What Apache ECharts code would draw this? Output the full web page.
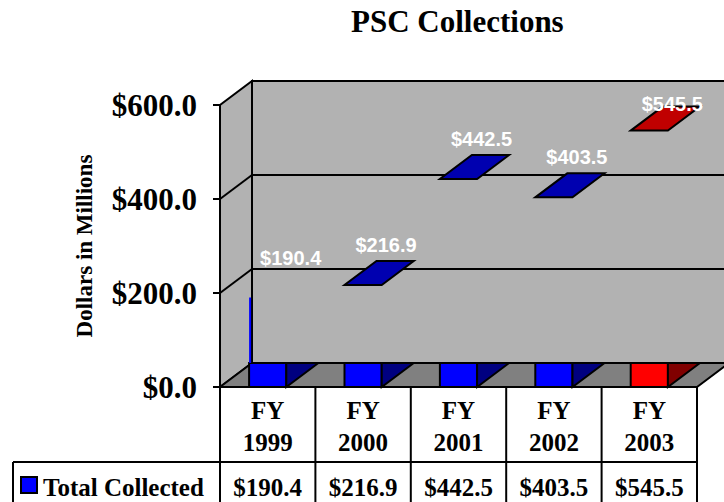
<!DOCTYPE html>
<html>
<head>
<meta charset="utf-8">
<script src="https://cdn.jsdelivr.net/npm/echarts@6/dist/echarts.min.js"></script>
<style>
  html, body { margin: 0; padding: 0; background: #fff; }
  #chart { width: 724px; height: 502px; }
</style>
</head>
<body>
<div id="chart"></div>
<script>
var categories = ['FY 1999', 'FY 2000', 'FY 2001', 'FY 2002', 'FY 2003'];
var collected = [190.4, 216.9, 442.5, 403.5, 545.5];
var yTicks = [0, 200, 400, 600];
var seriesName = 'Total Collected';

// depth of the fake 3d box, in pixels
var DX = 32, DY = -24;
var SERIF = "'Liberation Serif', 'Times New Roman', serif";
var SANS = "'Liberation Sans', Arial, sans-serif";
var BLUE = { front: '#0000FF', side: '#000080', top: '#0000B0' };
var RED = { front: '#FF0000', side: '#800000', top: '#C00000' };

function money(v) { return '$' + v.toFixed(1); }

function poly(points, fill, lw) {
  return { type: 'polygon', shape: { points: points }, style: { fill: fill, stroke: '#000', lineWidth: lw || 2, lineJoin: 'miter' } };
}
function seg(x1, y1, x2, y2, color, lw) {
  return { type: 'line', shape: { x1: x1, y1: y1, x2: x2, y2: y2 }, style: { stroke: color || '#000', lineWidth: lw || 2 } };
}
function txt(s, x, y, size, opts) {
  opts = opts || {};
  return {
    type: 'text',
    style: {
      text: s, x: x, y: y,
      fill: opts.fill || '#000',
      fontFamily: opts.family || SERIF,
      fontWeight: 'bold',
      fontSize: size,
      align: opts.align || 'center',
      verticalAlign: 'middle'
    }
  };
}

// walls, floor, gridlines and the row header of the data table
function renderFrame(params, api) {
  var bw = api.size([1, 0])[0];
  var xl = api.coord([0, 0])[0] - bw / 2;
  var xr = api.coord([categories.length - 1, 0])[0] + bw / 2;
  var y0 = api.coord([0, yTicks[0]])[1];
  var yt = api.coord([0, yTicks[yTicks.length - 1]])[1];
  var far = xr + DX + 40;
  var kids = [];
  kids.push(poly([[xl + DX, yt + DY], [far, yt + DY], [far, y0 + DY], [xl + DX, y0 + DY]], '#B2B2B2'));
  kids.push(poly([[xl, y0], [xl, yt], [xl + DX, yt + DY], [xl + DX, y0 + DY]], '#B2B2B2'));
  yTicks.slice(1, -1).forEach(function (t) {
    var y = api.coord([0, t])[1];
    kids.push(seg(xl, y, xl + DX, y + DY));
    kids.push(seg(xl + DX, y + DY, far, y + DY));
  });
  kids.push(poly([[xl, y0], [xl + DX, y0 + DY], [xr + DX, y0 + DY], [xr, y0]], '#808080'));

  // data table: row header
  var rowTop = y0 + 75;
  var tableLeft = 13;
  kids.push(seg(tableLeft, rowTop, xr, rowTop));
  kids.push(seg(tableLeft, rowTop, tableLeft, rowTop + 60));
  kids.push({ type: 'rect', shape: { x: tableLeft + 8, y: rowTop + 15, width: 16, height: 16 }, style: { fill: BLUE.front, stroke: '#000', lineWidth: 2 } });
  kids.push(txt(seriesName, tableLeft + 30, rowTop + 25, 25, { align: 'left' }));
  return { type: 'group', children: kids };
}

function renderBar(params, api) {
  var i = api.value(0), v = api.value(1);
  var bw = api.size([1, 0])[0];
  var w = bw * 0.39;
  var base = api.coord([i, 0]);
  var top = api.coord([i, v]);
  var xl = base[0] - w / 2, xr = base[0] + w / 2;
  var y0 = base[1], yv = top[1];
  var yt = api.coord([i, yTicks[yTicks.length - 1]])[1];
  var c = i === categories.length - 1 ? RED : BLUE;
  var kids = [];
  kids.push(poly([[xl, y0 + DY], [xr, y0 + DY], [xr, y0], [xl, y0]], c.front));
  kids.push(poly([[xr, y0 + DY], [xr, y0], [xr + DX, y0 + DY]], c.side));
  if (i === 0) {
    // first bar only shows its front edge in the original
    kids.push(seg(xl + 1, yv, xl + 1, y0 + DY, c.front, 2));
  } else {
    kids.push(poly([[xl, yv], [xr, yv], [xr + DX, yv + DY], [xl + DX, yv + DY]], c.top, 2));
  }
  var ly = Math.max(yv + DY / 2 - 28, yt + DY + 23);
  kids.push(txt(money(v), base[0] + DX / 2 + 7, ly, 20, { fill: '#FFFFFF', family: SANS }));
  return { type: 'group', children: kids };
}

function renderTable(params, api) {
  var i = api.value(0), v = api.value(1);
  var bw = api.size([1, 0])[0];
  var p = api.coord([i, 0]);
  var x = p[0], y0 = p[1];
  var parts = categories[i].split(' ');
  var kids = [];
  kids.push(seg(x - bw / 2, y0, x - bw / 2, y0 + 140));
  if (i === categories.length - 1) kids.push(seg(x + bw / 2, y0, x + bw / 2, y0 + 140));
  kids.push(txt(parts[0], x, y0 + 23, 25));
  kids.push(txt(parts[1], x, y0 + 55, 25));
  kids.push(txt(money(v), x, y0 + 100, 25));
  return { type: 'group', children: kids };
}

var chart = echarts.init(document.getElementById('chart'), null, { renderer: 'svg' });
chart.setOption({
  animation: false,
  title: {
    text: 'PSC Collections',
    left: 346,
    top: 1,
    textStyle: { fontFamily: SERIF, fontWeight: 'bold', fontSize: 31, color: '#000' }
  },
  grid: { left: 220, right: 27, top: 105, bottom: 115 },
  xAxis: {
    type: 'category',
    data: categories,
    axisLine: { show: false },
    axisTick: { show: false },
    axisLabel: { show: false }
  },
  yAxis: {
    type: 'value',
    min: yTicks[0],
    max: yTicks[yTicks.length - 1],
    interval: yTicks[1] - yTicks[0],
    z: 10,
    axisLine: { show: true, lineStyle: { color: '#000', width: 2 } },
    axisTick: { show: true, length: 7, lineStyle: { color: '#000', width: 2 } },
    splitLine: { show: false },
    axisLabel: {
      formatter: function (v) { return money(v); },
      fontFamily: SERIF, fontWeight: 'bold', fontSize: 31, color: '#000', margin: 23
    },
    name: 'Dollars in Millions',
    nameLocation: 'middle',
    nameGap: 124,
    nameTextStyle: { fontFamily: SERIF, fontWeight: 'bold', fontSize: 23, color: '#000' }
  },
  series: [
    {
      type: 'custom',
      name: 'frame',
      renderItem: renderFrame,
      data: [[0, 0]],
      clip: false,
      silent: true,
      z: 1
    },
    {
      type: 'custom',
      name: seriesName,
      renderItem: renderBar,
      data: collected.map(function (v, i) { return [i, v]; }),
      clip: false,
      z: 3
    },
    {
      type: 'custom',
      name: 'table',
      renderItem: renderTable,
      data: collected.map(function (v, i) { return [i, v]; }),
      clip: false,
      silent: true,
      z: 2
    }
  ]
});
</script>
</body>
</html>
